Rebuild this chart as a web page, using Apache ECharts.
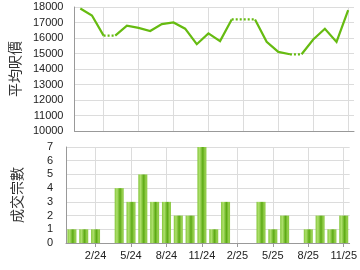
<!DOCTYPE html>
<html><head><meta charset="utf-8">
<script src="https://cdn.jsdelivr.net/npm/echarts@6/dist/echarts.min.js"></script>
<style>html,body{margin:0;padding:0;background:#fff}#c{width:360px;height:270px}</style>
</head><body><div id="c"></div>
<script>
const months = ['12/23','1/24','2/24','3/24','4/24','5/24','6/24','7/24','8/24','9/24','10/24','11/24',
  '12/24','1/25','2/25','3/25','4/25','5/25','6/25','7/25','8/25','9/25','10/25','11/25'];
const avgPrice = [17900,17450,16150,16150,16800,16650,16450,16900,17000,16600,15600,16300,
  15800,17200,17200,17200,15750,15100,14950,14950,15900,16600,15750,17800];
const txCount = [1,1,1,0,4,3,5,3,3,2,2,7,1,3,0,0,3,1,2,0,1,2,1,2];
const priceAxisName = '平均呎價';
const countAxisName = '成交宗數';

const labelEvery = (i) => (i - 2) % 3 === 0;
const lineColor = '#66bb11';

// build line runs: segment i->i+1 is dotted when month i+1 had no transactions
const lineSeries = [];
let start = 0;
let dotted = txCount[1] === 0;
for (let i = 1; i < months.length; i++) {
  const segDotted = txCount[i] === 0;
  if (segDotted !== dotted) {
    pushRun(start, i - 1, dotted);
    start = i - 1; dotted = segDotted;
  }
}
pushRun(start, months.length - 1, dotted);
function pushRun(a, b, isDotted) {
  const d = avgPrice.map((v, k) => (k >= a && k <= b) ? v : null);
  lineSeries.push({
    type: 'line', xAxisIndex: 0, yAxisIndex: 0, data: d, symbol: 'none',
    connectNulls: false, animation: false, silent: true,
    lineStyle: { color: lineColor, width: 2.2, type: isDotted ? [2, 2] : 'solid', cap: 'butt', join: 'miter' }
  });
}

const txtFont = { fontFamily: 'Liberation Sans', fontSize: 11, color: '#222' };
const nameFont = { fontFamily: 'Noto Sans CJK TC', fontSize: 14, color: '#333' };
const plainNum = (v) => String(v);

const chart = echarts.init(document.getElementById('c'), null, { renderer: 'canvas' });
chart.setOption({
  animation: false,
  backgroundColor: '#fff',
  grid: [
    { left: 66, right: 6, top: 7, height: 124 },
    { left: 66, right: 6, top: 147, height: 96 }
  ],
  xAxis: [
    { type: 'category', gridIndex: 0, data: months, boundaryGap: true,
      axisLine: { lineStyle: { color: '#999', width: 1 } },
      axisTick: { show: false }, axisLabel: { show: false },
      splitLine: { show: true, alignWithLabel: true, interval: labelEvery, lineStyle: { color: '#dcdcdc', width: 1 } } },
    { type: 'category', gridIndex: 1, data: months, boundaryGap: true,
      axisLine: { lineStyle: { color: '#999', width: 1 } },
      axisTick: { show: true, alignWithLabel: true, interval: labelEvery, length: 4, lineStyle: { color: '#999' } },
      axisLabel: Object.assign({ interval: labelEvery, margin: 7 }, txtFont),
      splitLine: { show: true, alignWithLabel: true, interval: labelEvery, lineStyle: { color: '#dcdcdc', width: 1 } } }
  ],
  yAxis: [
    { type: 'value', gridIndex: 0, min: 10000, max: 18000, interval: 1000,
      name: priceAxisName, nameLocation: 'middle', nameRotate: 90, nameGap: 45, nameTextStyle: nameFont,
      axisLine: { show: true, lineStyle: { color: '#999', width: 1 } }, axisTick: { show: false },
      axisLabel: Object.assign({ margin: 11, formatter: plainNum }, txtFont),
      splitLine: { lineStyle: { color: '#dcdcdc', width: 1 } } },
    { type: 'value', gridIndex: 1, min: 0, max: 7, interval: 1,
      name: countAxisName, nameLocation: 'middle', nameRotate: 90, nameGap: 42, nameTextStyle: nameFont,
      axisLine: { show: true, lineStyle: { color: '#999', width: 1 } }, axisTick: { show: false },
      axisLabel: Object.assign({ margin: 13, formatter: plainNum }, txtFont),
      splitLine: { lineStyle: { color: '#dcdcdc', width: 1 } } }
  ],
  series: lineSeries.concat([{
    type: 'bar', xAxisIndex: 1, yAxisIndex: 1, data: txCount, barWidth: 9, silent: true,
    itemStyle: {
      color: new echarts.graphic.LinearGradient(0, 0, 1, 0, [
        { offset: 0, color: '#84c63a' },
        { offset: 0.25, color: '#aee06c' },
        { offset: 0.6, color: '#5caa14' },
        { offset: 0.85, color: '#98d050' },
        { offset: 1, color: '#84c63a' }
      ])
    }
  }])
});
</script>
</body></html>
